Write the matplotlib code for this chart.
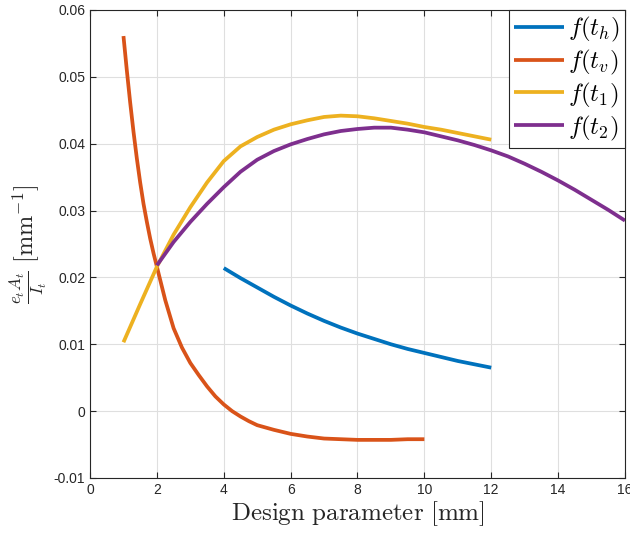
import numpy as np
import matplotlib
matplotlib.use('Agg')
import matplotlib.pyplot as plt

plt.rcParams['font.family'] = ['Liberation Sans', 'DejaVu Sans']
plt.rcParams['mathtext.fontset'] = 'cm'

# f(t_h)
x_h = [4, 4.5, 5, 5.5, 6, 6.5, 7, 7.5, 8, 8.5, 9, 9.5, 10, 10.5, 11, 11.5, 12]
y_h = [0.0214, 0.0199, 0.0185, 0.0171, 0.0158, 0.0146, 0.0135, 0.0125, 0.0116,
       0.0108, 0.0100, 0.0093, 0.0087, 0.0081, 0.0075, 0.0070, 0.0065]

# f(t_v)
x_v = [1.0, 1.1, 1.2, 1.3, 1.4, 1.5, 1.6, 1.7, 1.8, 1.9, 2.0, 2.25, 2.5, 2.75, 3.0,
       3.25, 3.5, 3.75, 4.0, 4.25, 4.5, 4.75, 5.0, 5.5, 6.0, 6.5, 7.0, 7.5, 8.0,
       8.5, 9.0, 9.5, 10.0]
y_v = [0.0561, 0.0510, 0.0462, 0.0418, 0.0378, 0.0342, 0.0310, 0.0283, 0.0258,
       0.0236, 0.0216, 0.0166, 0.0124, 0.0095, 0.0072, 0.0054, 0.0037, 0.0022,
       0.0010, 0.0000, -0.0008, -0.0015, -0.0021, -0.0028, -0.0034, -0.0038,
       -0.0041, -0.0042, -0.0043, -0.0043, -0.0043, -0.0042, -0.0042]

# f(t_1)
x_1 = [1, 1.5, 2, 2.5, 3, 3.5, 4, 4.5, 5, 5.5, 6, 6.5, 7, 7.5, 8, 8.5, 9, 9.5,
       10, 10.5, 11, 11.5, 12]
y_1 = [0.0103, 0.0160, 0.0216, 0.0264, 0.0305, 0.0342, 0.0374, 0.0396, 0.0410,
       0.0421, 0.0429, 0.0435, 0.0440, 0.0442, 0.0441, 0.0438, 0.0434, 0.0430,
       0.0425, 0.0421, 0.0416, 0.0411, 0.0406]

# f(t_2)
x_2 = [2, 2.5, 3, 3.5, 4, 4.5, 5, 5.5, 6, 6.5, 7, 7.5, 8, 8.5, 9, 9.5, 10, 10.5,
       11, 11.5, 12, 12.5, 13, 13.5, 14, 14.5, 15, 15.5, 16]
y_2 = [0.0218, 0.0253, 0.0283, 0.0310, 0.0335, 0.0358, 0.0376, 0.0389, 0.0399,
       0.0407, 0.0414, 0.0419, 0.0422, 0.0424, 0.0424, 0.0421, 0.0417, 0.0411,
       0.0405, 0.0398, 0.0390, 0.0381, 0.0370, 0.0358, 0.0345, 0.0331, 0.0316,
       0.0301, 0.0285]

colors = ['#0072BD', '#D95319', '#EDB120', '#7E2F8E']
labels = [r'$f(t_h)$', r'$f(t_v)$', r'$f(t_1)$', r'$f(t_2)$']

fig = plt.figure(figsize=(6.3, 5.37), dpi=100)
ax = fig.add_axes([0.1429, 0.1099, 0.8491, 0.8715])

for xs, ys, c, lab in zip([x_h, x_v, x_1, x_2], [y_h, y_v, y_1, y_2], colors, labels):
    ax.plot(xs, ys, color=c, lw=2.7, label=lab, solid_capstyle='butt',
            solid_joinstyle='round')

ax.set_xlim(0, 16)
ax.set_ylim(-0.01, 0.06)
ax.set_xticks(np.arange(0, 17, 2))
yt = [-0.01, 0, 0.01, 0.02, 0.03, 0.04, 0.05, 0.06]
ax.set_yticks(yt)
ax.set_yticklabels(['-0.01', '0', '0.01', '0.02', '0.03', '0.04', '0.05', '0.06'])

axc = '#262626'
for s in ax.spines.values():
    s.set_color(axc)
    s.set_linewidth(0.8)
ax.tick_params(direction='in', top=True, right=True, length=4, width=0.8,
               colors=axc, labelsize=10)
ax.grid(True, color='#dfdfdf', lw=0.8)
ax.set_axisbelow(True)

ax.set_xlabel(r'$\mathrm{Design\ parameter\ [mm]}$', fontsize=18, color=axc, labelpad=2)
ax.set_ylabel(r'$\frac{e_t A_t}{I_t}\ [\mathrm{mm}^{-1}]$', fontsize=17.5, color=axc,
              labelpad=3)

leg = ax.legend(loc='upper right', fontsize=18, frameon=True, fancybox=False,
                edgecolor=axc, borderaxespad=0, handlelength=2.0, handletextpad=0.15,
                labelspacing=0.15, borderpad=0.2, framealpha=1)
leg.get_frame().set_linewidth(0.8)

fig.savefig('out.png', dpi=100)
